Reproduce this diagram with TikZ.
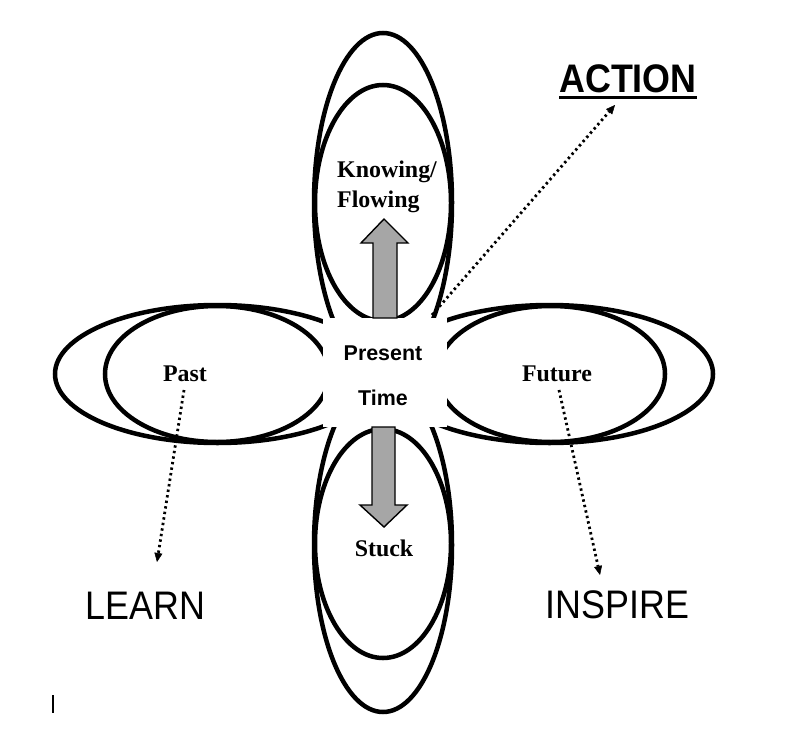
\documentclass[tikz,border=0pt]{standalone}
\usepackage{fontspec}
\usepackage{graphicx}
\setmainfont{Liberation Serif}
\newfontfamily\arialf{Liberation Sans}
\usetikzlibrary{arrows.meta}
\definecolor{arrowgray}{HTML}{A6A6A6}
\tikzset{
  petal/.style={line width=4.5bp, draw=black},
  blockarrow/.style={fill=arrowgray, draw=black, line width=1.4bp, line join=miter},
  dotarrow/.style={line width=2.8bp, line cap=butt, dash pattern=on 2.4bp off 3.2bp,
    -{Triangle[length=9bp,width=8bp,line width=0.5bp]}},
  serlabel/.style={inner sep=0pt, anchor=base, font=\fontsize{24}{29}\selectfont\bfseries},
  sanslabel/.style={inner sep=0pt, anchor=base, font=\arialf\fontsize{21.5}{26}\selectfont\bfseries},
  biglabel/.style={inner sep=0pt, anchor=base, font=\arialf\fontsize{40}{48}\selectfont}
}
\begin{document}
\begin{tikzpicture}[x=1bp,y=-1bp]
\useasboundingbox (0,0) rectangle (807,747);
\fill[white] (0,0) rectangle (807,747);

% petals: outer and inner loops
% top
\draw[petal] (383,202.5) ellipse [x radius=69bp, y radius=169.5bp];
\draw[petal] (383,203) ellipse [x radius=68bp, y radius=118bp];
% bottom
\draw[petal] (383,545) ellipse [x radius=69bp, y radius=167bp];
\draw[petal] (383,543.5) ellipse [x radius=68bp, y radius=114.5bp];
% left
\draw[petal] (217.5,374) ellipse [x radius=162.5bp, y radius=69bp];
\draw[petal] (217,374) ellipse [x radius=112bp, y radius=68bp];
% right
\draw[petal] (549.5,374) ellipse [x radius=163.5bp, y radius=69bp];
\draw[petal] (551,374) ellipse [x radius=114bp, y radius=68bp];

% white centre
\fill[white] (323,318) rectangle (447,427);

% block arrows
\draw[blockarrow] (373,318) -- (373,243) -- (361,243) -- (384,219) -- (408,243) -- (397,243) -- (397,318) -- cycle;
\draw[blockarrow] (372,427) -- (372,505) -- (360,505) -- (384,527) -- (407,505) -- (395,505) -- (395,427) -- cycle;

% labels
\node[serlabel, anchor=base west] (knowing) at (337,177) {Knowing/};
\node[serlabel, anchor=base west] (flowing) at (337,207) {Flowing};
\node[serlabel] (past) at (185,381.5) {Past};
\node[serlabel] (future) at (557,381.5) {Future};
\node[serlabel] (stuck) at (384,556.5) {Stuck};
\node[sanslabel] (present) at (383,360) {Present};
\node[sanslabel] (time) at (383,405) {Time};

\node[biglabel, font=\arialf\fontsize{40}{48}\selectfont\bfseries] (action) at (628,92) {\scalebox{0.9}[1]{ACTION}};
\draw[line width=3.6bp] ([yshift=-5.5bp]action.base west) -- ([yshift=-5.5bp]action.base east);
\node[biglabel] (learn) at (145.5,619) {\scalebox{0.9}[1]{LEARN}};
\node[biglabel] (inspire) at (617.5,618) {\scalebox{0.9}[1]{INSPIRE}};

% dotted connectors
\coordinate (actstart) at (432,315);
\coordinate (acttip) at (615,105);
\coordinate (paststart) at (184,390);
\coordinate (learntip) at (157,562);
\coordinate (futstart) at (559,390);
\coordinate (insptip) at (600,575);
\draw[dotarrow] (actstart) -- (acttip);
\draw[dotarrow] (paststart) -- (learntip);
\draw[dotarrow] (futstart) -- (insptip);

% small cursor mark
\coordinate (barA) at (53,695);
\coordinate (barB) at (53,713);
\draw[line width=1.2bp] (barA) -- (barB);
\end{tikzpicture}
\end{document}
